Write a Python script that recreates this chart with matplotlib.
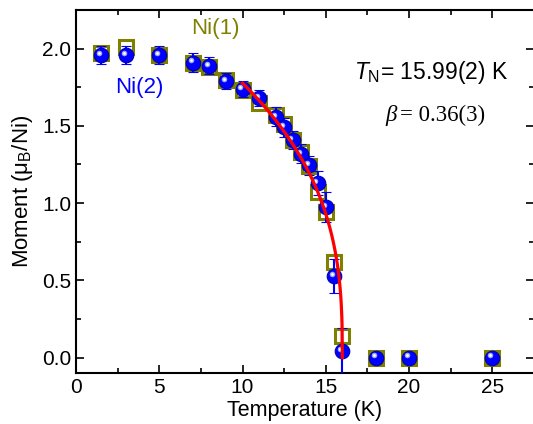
import numpy as np
import matplotlib
matplotlib.use('Agg')
import matplotlib.pyplot as plt
from matplotlib.transforms import offset_copy
from matplotlib.ticker import MultipleLocator

plt.rcParams['font.family'] = ['Liberation Sans', 'DejaVu Sans']
plt.rcParams['mathtext.fontset'] = 'custom'
plt.rcParams['mathtext.rm'] = 'Liberation Sans'
plt.rcParams['mathtext.it'] = 'Liberation Sans:italic'

# measured data
temp = [1.5, 3, 5, 7, 8, 9, 10, 11, 12, 12.5, 13, 13.5, 14, 14.5, 15, 15.5, 16, 18, 20, 25]
ni1 = [1.97, 2.01, 1.96, 1.91, 1.88, 1.80, 1.73, 1.65, 1.57, 1.51, 1.41, 1.33, 1.24, 1.07, 0.94, 0.62, 0.14, 0.0, 0.0, 0.0]
ni1_err = [0.03, 0.03, 0.03, 0.03, 0.03, 0.03, 0.03, 0.03, 0.03, 0.03, 0.03, 0.03, 0.03, 0.03, 0.03, 0.03, 0.03, 0.01, 0.01, 0.01]
ni2 = [1.96, 1.96, 1.96, 1.91, 1.89, 1.79, 1.74, 1.68, 1.56, 1.49, 1.41, 1.32, 1.245, 1.13, 0.975, 0.525, 0.04, 0.0, 0.0, 0.0]
ni2_err = [0.06, 0.06, 0.06, 0.06, 0.055, 0.05, 0.05, 0.05, 0.06, 0.06, 0.06, 0.06, 0.06, 0.08, 0.1, 0.11, 0.15, 0.01, 0.01, 0.01]

# power-law fit parameters
m0 = 2.53
tn = 15.99
beta = 0.36
t_fit = np.linspace(10, tn, 400)
m_fit = m0 * (1 - t_fit / tn) ** beta

fig = plt.figure(figsize=(5.33, 4.24), dpi=100)
ax = fig.add_axes([0.1426, 0.1203, 0.8593, 0.856])

olive = '#808000'
blue = '#0000ff'

ax.errorbar(temp, ni1, yerr=ni1_err, fmt='s', ms=10.5, mfc='white', mec=olive, mew=2.2,
            ecolor=olive, elinewidth=1.5, capsize=3.5, capthick=1.5, zorder=2)
ax.errorbar(temp, ni2, yerr=ni2_err, fmt='o', ms=10.5, mfc=blue, mec='#0000b0', mew=0.8,
            ecolor=blue, elinewidth=1.5, capsize=3.5, capthick=1.5, zorder=3)
# sphere highlight
hl = offset_copy(ax.transData, fig=fig, x=-1.5, y=1.5, units='points')
ax.plot(temp, ni2, 'o', ms=4, color='#9fa8ff', mec='none', transform=hl, zorder=4)
ax.plot(temp, ni2, 'o', ms=2, color='white', mec='none', transform=hl, zorder=4)

ax.plot(t_fit, m_fit, color='red', lw=2.3, zorder=5)

ax.set_xlim(0, 27.5)
ax.set_ylim(-0.1, 2.25)
ax.xaxis.set_major_locator(MultipleLocator(5))
ax.xaxis.set_minor_locator(MultipleLocator(2.5))
ax.yaxis.set_major_locator(MultipleLocator(0.5))
ax.yaxis.set_minor_locator(MultipleLocator(0.25))
ax.tick_params(which='both', direction='in', top=True, right=True, width=1.2, labelsize=15)
ax.tick_params(which='major', length=6)
ax.tick_params(which='minor', length=3.5)
ax.yaxis.set_major_formatter(plt.FormatStrFormatter('%.1f'))
for s in ax.spines.values():
    s.set_linewidth(1.5)

ax.set_xlabel('Temperature (K)', fontsize=15.5, labelpad=2)
ax.set_ylabel('Moment (μ$_\\mathrm{B}$/Ni)', fontsize=16, labelpad=5)

ax.text(8.35, 2.13, 'Ni(1)', color=olive, fontsize=16, ha='center', va='center')
ax.text(3.8, 1.75, 'Ni(2)', color=blue, fontsize=16, ha='center', va='center')
ax.text(21.3, 1.845, '$\\mathit{T}_\\mathrm{N}$= 15.99(2) K', fontsize=16.5, ha='center', va='center')
ax.text(19.25, 1.57, 'β', fontsize=16.5, family='Liberation Serif', style='italic', ha='right', va='center')
ax.text(19.45, 1.57, '= 0.36(3)', fontsize=16.5, family='Liberation Serif', ha='left', va='center')

fig.savefig('out.png', dpi=100)
